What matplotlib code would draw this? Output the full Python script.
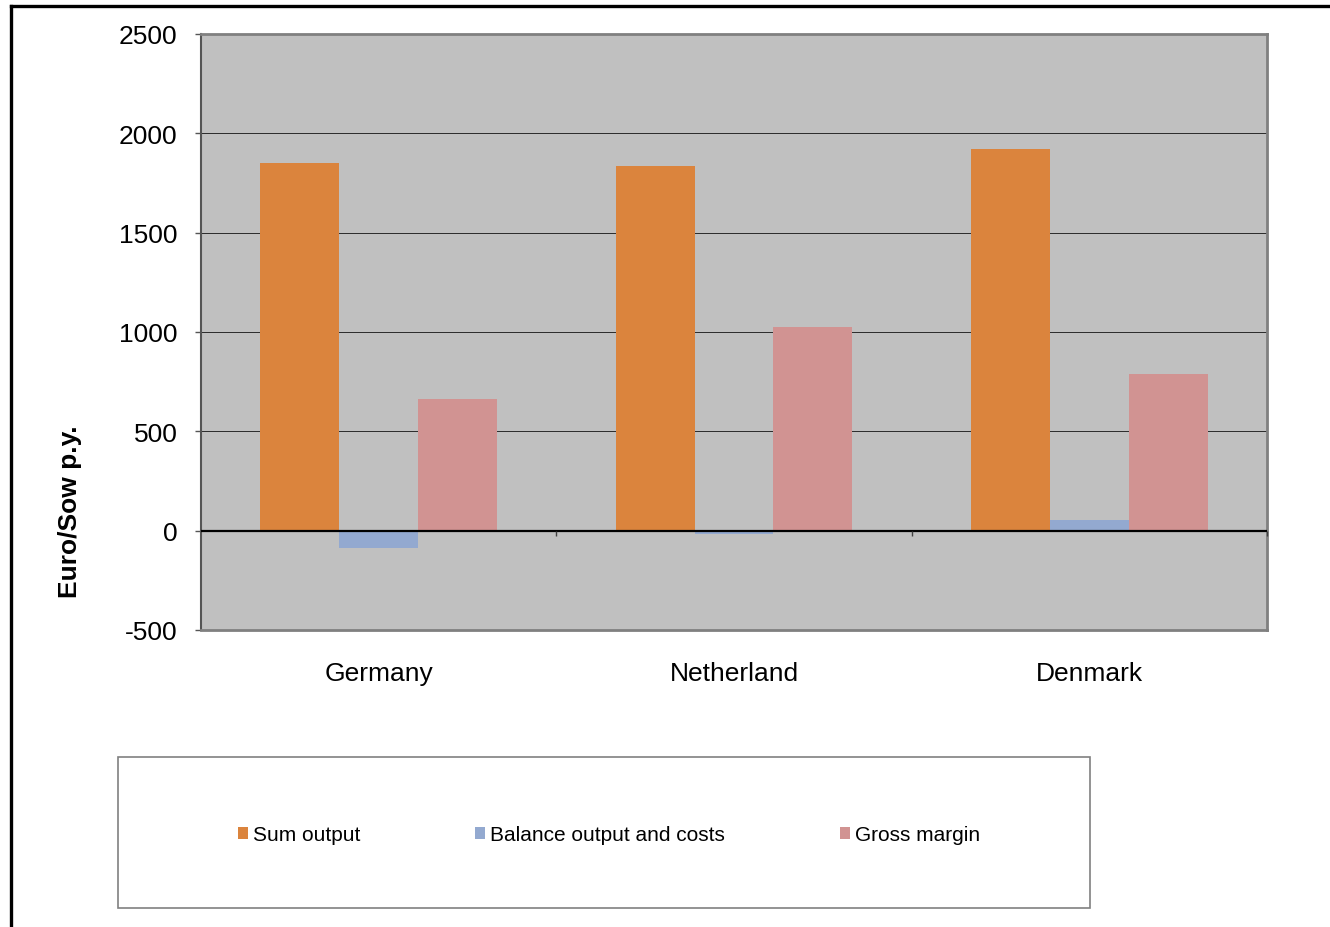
import numpy as np
import matplotlib.pyplot as plt
from matplotlib.patches import Rectangle
from matplotlib.lines import Line2D

plt.rcParams['font.family'] = ['Liberation Sans', 'DejaVu Sans']
plt.rcParams['axes.unicode_minus'] = False

# data
countries = ['Germany', 'Netherland', 'Denmark']
sum_output = [1852, 1837, 1922]
balance = [-86, -15, 55]
gross_margin = [664, 1027, 790]
series_names = ['Sum output', 'Balance output and costs', 'Gross margin']
colors = ['#DB843D', '#93A9D0', '#D19392']

fig = plt.figure(figsize=(13.3, 9.28), dpi=100)
ax = fig.add_axes([201/1330, 1 - 631/928, 1066/1330, 596/928])
ax.set_facecolor('#C0C0C0')

x = np.arange(len(countries)) + 0.5
w = 1 / 4.5
for i, (vals, c, name) in enumerate(zip([sum_output, balance, gross_margin], colors, series_names)):
    ax.bar(x + (i - 1) * w, vals, width=w, color=c, label=name, zorder=3)

ax.set_xlim(0, 3)
ax.set_ylim(-500, 2500)
ax.set_yticks(np.arange(-500, 2501, 500))
ax.grid(axis='y', color='#2a2a2a', linewidth=0.7, zorder=1)
ax.axhline(0, color='black', linewidth=1.6, zorder=4)
ax.set_xticks([])
ax.vlines([1, 2, 3], -25, 0, color='#404040', linewidth=1, clip_on=False, zorder=4)
for xi, name in zip(x, countries):
    ax.text(xi, -0.072, name, transform=ax.get_xaxis_transform(), ha='center', va='center', fontsize=19)

ax.tick_params(axis='y', direction='out', length=4, width=1, color='#555555', pad=13, labelsize=19)
for s in ['top', 'right', 'bottom']:
    ax.spines[s].set_color('#808080')
    ax.spines[s].set_linewidth(2)
ax.spines['left'].set_color('#555555')
ax.spines['left'].set_linewidth(1.5)

ax.set_ylabel('Euro/Sow p.y.', fontsize=19, fontweight='bold')
ax.yaxis.set_label_coords(-0.112, 0.2)

# legend box
fig.patches.append(Rectangle((118/1330, 1 - 909/928), 972/1330, 151/928, transform=fig.transFigure,
                             facecolor='white', edgecolor='#808080', linewidth=1.2))
handles, labels = ax.get_legend_handles_labels()
fig.legend(handles, labels, loc='center', bbox_to_anchor=(609/1330, 1 - 836/928), ncol=3, frameon=False,
           fontsize=15, handlelength=0.48, handleheight=0.48, handletextpad=0.24, columnspacing=5.5)

# slide border lines
fig.add_artist(Line2D([11/1330, 11/1330], [0, 1 - 7/928], transform=fig.transFigure, color='black', linewidth=2.4))
fig.add_artist(Line2D([11/1330, 1], [1 - 7/928, 1 - 7/928], transform=fig.transFigure, color='black', linewidth=2.4))

fig.savefig('out.png', dpi=100)
